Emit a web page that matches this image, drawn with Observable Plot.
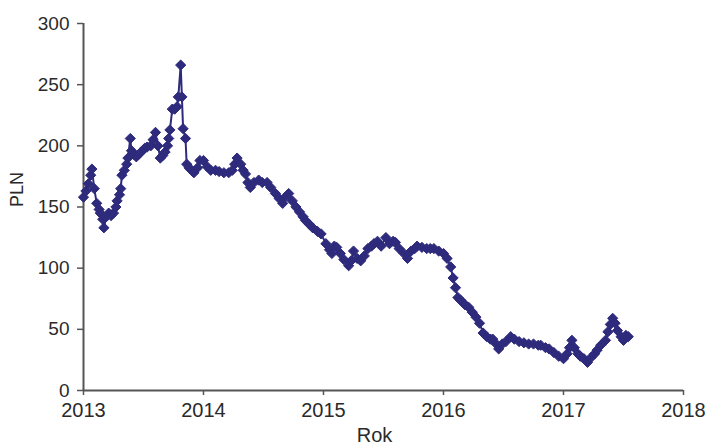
<!DOCTYPE html>
<html>
<head>
<meta charset="utf-8">
<script src="https://cdn.jsdelivr.net/npm/d3@7"></script>
<script src="https://cdn.jsdelivr.net/npm/@observablehq/plot@0.6"></script>
<style>
  html, body { margin: 0; padding: 0; background: #fff; }
  #chart svg { display: block; }
</style>
</head>
<body>
<div id="chart"></div>
<script>
const years = [
  2013.00, 2013.02, 2013.04, 2013.06, 2013.07, 2013.09, 2013.11, 2013.13, 2013.14, 2013.16,
  2013.17, 2013.19, 2013.21, 2013.23, 2013.25, 2013.27, 2013.28, 2013.30, 2013.31, 2013.32,
  2013.34, 2013.36, 2013.37, 2013.39, 2013.40, 2013.42, 2013.44, 2013.46, 2013.48, 2013.51,
  2013.53, 2013.56, 2013.58, 2013.60, 2013.62, 2013.64, 2013.66, 2013.68, 2013.70, 2013.71,
  2013.72, 2013.74, 2013.76, 2013.78, 2013.79, 2013.81, 2013.82, 2013.83, 2013.85, 2013.86,
  2013.88, 2013.90, 2013.92, 2013.95, 2013.97, 2014.00, 2014.03, 2014.06, 2014.10, 2014.13,
  2014.17, 2014.21, 2014.24, 2014.26, 2014.28, 2014.31, 2014.33, 2014.35, 2014.37, 2014.39,
  2014.42, 2014.46, 2014.49, 2014.53, 2014.56, 2014.60, 2014.63, 2014.66, 2014.68, 2014.71,
  2014.74, 2014.77, 2014.80, 2014.83, 2014.85, 2014.88, 2014.91, 2014.95, 2014.98, 2015.02,
  2015.05, 2015.07, 2015.09, 2015.11, 2015.14, 2015.17, 2015.21, 2015.23, 2015.25, 2015.28,
  2015.31, 2015.34, 2015.37, 2015.40, 2015.42, 2015.45, 2015.48, 2015.52, 2015.55, 2015.58,
  2015.60, 2015.63, 2015.67, 2015.70, 2015.73, 2015.76, 2015.78, 2015.82, 2015.86, 2015.89,
  2015.92, 2015.96, 2016.00, 2016.03, 2016.06, 2016.08, 2016.10, 2016.12, 2016.14, 2016.16,
  2016.18, 2016.21, 2016.24, 2016.27, 2016.30, 2016.33, 2016.36, 2016.39, 2016.41, 2016.44,
  2016.46, 2016.49, 2016.52, 2016.56, 2016.59, 2016.63, 2016.67, 2016.71, 2016.75, 2016.79,
  2016.81, 2016.85, 2016.88, 2016.92, 2016.96, 2017.00, 2017.03, 2017.05, 2017.07, 2017.09,
  2017.12, 2017.14, 2017.17, 2017.20, 2017.23, 2017.26, 2017.28, 2017.31, 2017.35, 2017.37,
  2017.39, 2017.41, 2017.43, 2017.45, 2017.48, 2017.50, 2017.52, 2017.54
];
const prices = [
  158, 163, 169, 176, 181, 165, 153, 148, 145, 140,
  133, 142, 145, 143, 145, 150, 155, 160, 165, 176,
  180, 185, 190, 206, 196, 193, 191, 193, 195, 198,
  199, 200, 205, 211, 200, 190, 192, 195, 200, 206,
  213, 230, 230, 232, 240, 266, 240, 214, 206, 185,
  182, 180, 178, 182, 188, 188, 183, 180, 180, 179,
  178, 178, 180, 185, 190, 185, 180, 177, 170, 166,
  170, 172, 170, 170, 166, 161, 157, 153, 158, 161,
  155, 150, 146, 142, 139, 136, 133, 130, 128, 120,
  115, 112, 118, 117, 112, 107, 102, 106, 114, 108,
  106, 110, 116, 118, 120, 122, 118, 125, 120, 122,
  121, 116, 112, 108, 114, 116, 118, 117, 116, 116,
  116, 114, 112, 108, 101, 92, 84, 76, 74, 72,
  70, 68, 64, 60, 55, 47, 44, 42, 42, 38,
  34, 38, 40, 44, 42, 40, 39, 38, 38, 37,
  37, 35, 34, 31, 28, 26, 30, 35, 41, 35,
  30, 28, 26, 23, 27, 30, 33, 37, 41, 48,
  54, 59, 55, 49, 44, 41, 45, 44
];
const xTicks = [2013, 2014, 2015, 2016, 2017, 2018];
const yTicks = [0, 50, 100, 150, 200, 250, 300];
const xLabel = "Rok";
const yLabel = "PLN";

const data = years.map((x, i) => ({x, y: prices[i]}));
const color = "#2e2a7c";
const axisColor = "#555";

const chart = Plot.plot({
  width: 707,
  height: 444,
  marginLeft: 83,
  marginRight: 24,
  marginTop: 23,
  marginBottom: 54,
  style: {fontFamily: "Liberation Sans, Arial, sans-serif", fontSize: "19px", color: "#2a2a2a", background: "#fff", overflow: "visible"},
  x: {domain: [2013, 2018], ticks: xTicks, tickFormat: "d"},
  y: {domain: [0, 300], ticks: yTicks},
  marks: [
    Plot.axisX({ticks: xTicks, tickFormat: "d", tickSize: 5, tickPadding: 7, stroke: axisColor, strokeWidth: 1.5,
      fontSize: 20, label: null}),
    Plot.axisY({ticks: yTicks, tickSize: 6, tickPadding: 8, stroke: axisColor, strokeWidth: 1.5,
      fontSize: 19, label: null}),
    Plot.text([yLabel], {frameAnchor: "left", dx: -66, rotate: -90, fontSize: 18, fill: "#2a2a2a"}),
    Plot.text([xLabel], {frameAnchor: "bottom", dx: -9, dy: 51, fontSize: 20, fill: "#2a2a2a"}),
    Plot.ruleX([2013], {stroke: axisColor, strokeWidth: 2}),
    Plot.ruleY([0], {stroke: axisColor, strokeWidth: 2}),
    Plot.line(data, {x: "x", y: "y", stroke: color, strokeWidth: 2}),
    Plot.dot(data, {x: "x", y: "y", symbol: "diamond2", r: 4.6, fill: color, stroke: color, strokeWidth: 1})
  ]
});
document.getElementById("chart").appendChild(chart);
</script>
</body>
</html>
